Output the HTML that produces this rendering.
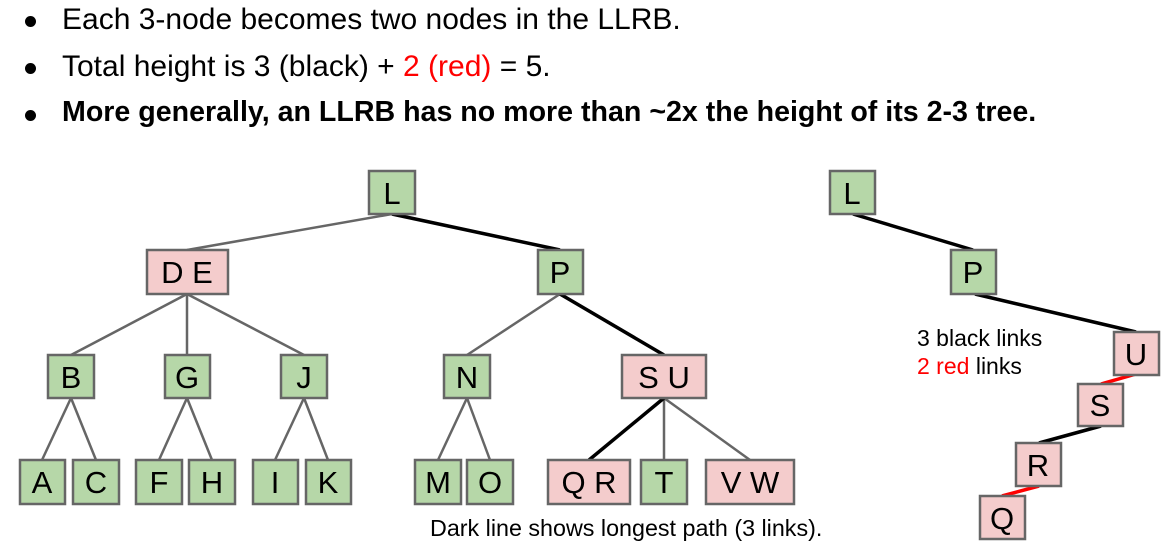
<!DOCTYPE html>
<html><head><meta charset="utf-8"><style>
body{margin:0;width:1168px;height:547px;background:#fff;overflow:hidden;position:relative;font-family:"Liberation Sans",Arial,sans-serif}
.b{position:absolute;left:62px;font-size:30px;color:#000;white-space:nowrap}
.d{position:absolute;left:25px;width:11px;height:11px;border-radius:50%;background:#000}
</style></head><body>
<div class="d" style="top:16px"></div><div class="b" style="top:3px">Each 3-node becomes two nodes in the LLRB.</div>
<div class="d" style="top:63px"></div><div class="b" style="top:50px">Total height is 3 (black) + <span style="color:#f00">2 (red)</span> = 5.</div>
<div class="d" style="top:110px"></div><div class="b" style="top:96px;font-weight:bold;font-size:28.6px">More generally, an LLRB has no more than ~2x the height of its 2-3 tree.</div>
<svg width="1168" height="547" style="position:absolute;left:0;top:0" font-family="Liberation Sans, Arial, sans-serif">
<g stroke="#666" stroke-width="2.5" fill="none">
<line x1="392" y1="214" x2="187" y2="250"/>
<line x1="187" y1="294" x2="71" y2="355"/><line x1="187" y1="294" x2="187" y2="355"/><line x1="187" y1="294" x2="304" y2="355"/>
<line x1="560" y1="294" x2="467" y2="355"/>
<line x1="71" y1="398" x2="42" y2="460"/><line x1="71" y1="398" x2="96" y2="460"/>
<line x1="187" y1="398" x2="159" y2="460"/><line x1="187" y1="398" x2="212" y2="460"/>
<line x1="304" y1="398" x2="275" y2="460"/><line x1="304" y1="398" x2="328" y2="460"/>
<line x1="467" y1="398" x2="438" y2="460"/><line x1="467" y1="398" x2="490" y2="460"/>
<line x1="664" y1="398" x2="664" y2="460"/><line x1="664" y1="398" x2="750" y2="460"/>
</g>
<g stroke="#000" stroke-width="3.5" fill="none">
<line x1="392" y1="214" x2="560" y2="250"/><line x1="560" y1="294" x2="664" y2="355"/><line x1="664" y1="398" x2="589" y2="460"/>
<line x1="853" y1="214" x2="973" y2="250"/><line x1="975" y1="294" x2="1136" y2="332"/><line x1="1101" y1="426" x2="1039" y2="443"/>
</g>
<g stroke="#f00" stroke-width="3.5"><line x1="1136" y1="374" x2="1101" y2="384"/><line x1="1039" y1="486" x2="1002" y2="496"/></g>
<g stroke="#666" stroke-width="2.5" font-size="31" text-anchor="middle">
<g fill="#b6d7a8">
<rect x="369" y="171" width="46" height="43"/><rect x="538" y="250" width="45" height="44"/>
<rect x="48" y="355" width="46" height="43"/><rect x="165" y="355" width="45" height="43"/><rect x="281" y="355" width="46" height="43"/><rect x="444" y="355" width="46" height="43"/>
<rect x="20" y="460" width="45" height="44"/><rect x="73" y="460" width="46" height="44"/><rect x="136" y="460" width="46" height="44"/><rect x="189" y="460" width="46" height="44"/>
<rect x="253" y="460" width="45" height="44"/><rect x="306" y="460" width="45" height="44"/><rect x="415" y="460" width="46" height="44"/><rect x="467" y="460" width="46" height="44"/>
<rect x="641" y="460" width="46" height="44"/>
<rect x="830" y="171" width="45" height="43"/><rect x="951" y="250" width="45" height="44"/>
</g>
<g fill="#f4cccc">
<rect x="147" y="250" width="81" height="44"/><rect x="622" y="355" width="84" height="43"/>
<rect x="548" y="460" width="82" height="44"/><rect x="706" y="460" width="88" height="44"/>
<rect x="1114" y="332" width="45" height="43"/><rect x="1078" y="384" width="45" height="42"/><rect x="1016" y="443" width="45" height="43"/><rect x="980" y="496" width="45" height="43"/>
</g>
<g fill="#000" stroke="none">
<text x="392" y="204">L</text><text x="560" y="283">P</text><text x="187" y="283">D E</text>
<text x="71" y="388">B</text><text x="187" y="388">G</text><text x="304" y="388">J</text><text x="467" y="388">N</text><text x="664" y="388">S U</text>
<text x="42" y="493">A</text><text x="96" y="493">C</text><text x="159" y="493">F</text><text x="212" y="493">H</text><text x="275" y="493">I</text><text x="328" y="493">K</text>
<text x="438" y="493">M</text><text x="490" y="493">O</text><text x="589" y="493">Q R</text><text x="664" y="493">T</text><text x="750" y="493">V W</text>
<text x="852" y="204">L</text><text x="973" y="283">P</text><text x="1136" y="365">U</text><text x="1100" y="416">S</text><text x="1038" y="476">R</text><text x="1002" y="529">Q</text>
</g></g>
<text x="917" y="346" font-size="23">3 black links</text>
<text x="917" y="374" font-size="23"><tspan fill="#f00">2 red</tspan> links</text>
<text x="430" y="536" font-size="23.3">Dark line shows longest path (3 links).</text>
</svg>
</body></html>
